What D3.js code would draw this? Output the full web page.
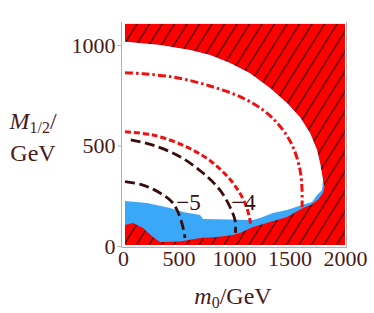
<!DOCTYPE html>
<html><head><meta charset="utf-8">
<script src="https://cdn.jsdelivr.net/npm/d3@7"></script>
<style>html,body{margin:0;padding:0;background:#fff;}</style>
</head><body>
<svg id="c" width="374" height="313"></svg>
<script>
// ---- data (m0 [GeV], M1/2 [GeV]) ----
const xTicks = [0, 500, 1000, 1500, 2000];
const yTicks = [0, 500, 1000];
const plotRange = {x: [18, 2000], y: [5, 1105]};
// allowed (white) region boundary
const whiteRegion = [[18,1016],[333,1000],[604,975],[784,950],[964,910],[1144,860],[1324,786],[1477,711],[1595,641],[1685,562],[1748,477],[1775,413],[1802,328],[1793,278],[1748,254],[1703,219],[1613,204],[1477,179],[1351,164],[1234,139],[1171,129],[721,134],[694,154],[541,169],[423,189],[216,214],[18,224]];
// blue region (drawn below white) outer boundary
const blueRegion = [[18,1016],[333,1000],[604,975],[784,950],[964,910],[1144,860],[1324,786],[1477,711],[1595,641],[1685,562],[1748,477],[1775,413],[1802,328],[1815,295],[1800,262],[1760,232],[1700,206],[1622,189],[1477,144],[1324,119],[1171,94],[1054,65],[991,55],[847,45],[694,40],[514,22],[333,20],[270,45],[180,90],[90,114],[18,104]];
// contour lines
const dotDashRed = [[18,862],[180,857],[486,837],[784,796],[1081,736],[1297,661],[1441,577],[1532,492],[1595,378],[1613,279],[1613,194]];
const dashedRed = [[18,568],[270,552],[577,492],[811,413],[991,313],[1099,214],[1144,129],[1150,96]];
const dashedDark4 = [[70,528],[270,502],[514,444],[721,363],[874,278],[964,194],[1009,129],[1013,65]];
const dashedDark5 = [[18,320],[180,303],[333,264],[441,219],[495,169],[540,94],[559,40]];
const contourLabels = [{t:"\u22125", x:590, y:180},{t:"\u22124", x:1085, y:180}];

const svg = d3.select("#c");
const x = d3.scaleLinear().domain([0, 2000]).range([123, 345]);
const y = d3.scaleLinear().domain([0, 1000]).range([246, 45]);
const textCol = "#4a1a1a";
const font = "'Liberation Serif','DejaVu Serif',serif";

// hatch pattern: lines x/w + y/h = k
const defs = svg.append("defs");
const w = 12.5, h = 20;
const pat = defs.append("pattern").attr("id","hatch").attr("patternUnits","userSpaceOnUse")
  .attr("width", w).attr("height", h).attr("x", 2).attr("y", 0);
pat.append("rect").attr("width", w).attr("height", h).attr("fill", "#ff0000");
[0,1,2].forEach(k => {
  pat.append("line").attr("x1", k*w + w).attr("y1", -h).attr("x2", k*w - 2*w).attr("y2", 2*h)
    .attr("stroke", "#3a0a0a").attr("stroke-width", 1.2);
});

const px0 = x(plotRange.x[0]), px1 = x(plotRange.x[1]);
const py0 = y(plotRange.y[1]), py1 = y(plotRange.y[0]);
svg.append("rect").attr("x", px0).attr("y", py0).attr("width", px1-px0).attr("height", py1-py0)
  .attr("fill", "url(#hatch)");

const poly = d3.line().x(d => x(d[0])).y(d => y(d[1]));
svg.append("path").attr("d", poly(blueRegion) + "Z").attr("fill", "#3aa7f7");
svg.append("path").attr("d", poly(whiteRegion) + "Z").attr("fill", "#ffffff");

const curve = d3.line().x(d => x(d[0])).y(d => y(d[1])).curve(d3.curveCatmullRom);
svg.append("path").attr("d", curve(dotDashRed)).attr("fill","none").attr("stroke","#f01010")
  .attr("stroke-width", 3).attr("stroke-dasharray","8,3,2.5,3");
svg.append("path").attr("d", curve(dashedRed)).attr("fill","none").attr("stroke","#f01010")
  .attr("stroke-width", 3).attr("stroke-dasharray","6,3");
svg.append("path").attr("d", curve(dashedDark4)).attr("fill","none").attr("stroke","#3a0c0c")
  .attr("stroke-width", 2.8).attr("stroke-dasharray","10,4.5");
svg.append("path").attr("d", curve(dashedDark5)).attr("fill","none").attr("stroke","#3a0c0c")
  .attr("stroke-width", 2.8).attr("stroke-dasharray","10,4.5");

svg.selectAll("text.cl").data(contourLabels).enter().append("text").attr("class","cl")
  .attr("x", d => x(d.x)).attr("y", d => y(d.y)).attr("text-anchor","middle")
  .attr("font-family", font).attr("font-size", 23).attr("fill", "#3a1010").text(d => d.t);

// frame
const fr = svg.append("g").attr("stroke", "#b0b0b0").attr("stroke-width", 1).attr("fill","none");
fr.append("line").attr("x1",121.5).attr("y1",22).attr("x2",121.5).attr("y2",247.5);
fr.append("line").attr("x1",346.5).attr("y1",22).attr("x2",346.5).attr("y2",247.5);
fr.append("line").attr("x1",121.5).attr("y1",247.5).attr("x2",346.5).attr("y2",247.5);

// axes via d3 axis
const xAxis = d3.axisBottom(x).tickValues(xTicks).tickSize(0).tickPadding(0).tickFormat(d3.format("d"));
const gx = svg.append("g").attr("transform","translate(0,250)").call(xAxis);
gx.select(".domain").remove();
gx.selectAll("text").attr("font-family", font).attr("font-size", 22).attr("fill", textCol).attr("dy","0.71em");
const yAxis = d3.axisLeft(y).tickValues(yTicks).tickSize(4).tickPadding(2).tickFormat(d3.format("d"));
const gy = svg.append("g").attr("transform","translate(121.5,0)").call(yAxis);
gy.select(".domain").remove();
gy.selectAll("line").attr("stroke","#b0b0b0");
gy.selectAll("text").attr("font-family", font).attr("font-size", 22).attr("fill", textCol).attr("dy","0.34em");

// axis labels
const xl = svg.append("text").attr("x", 233).attr("y", 304).attr("text-anchor","middle")
  .attr("font-family", font).attr("font-size", 24).attr("fill", textCol);
xl.append("tspan").attr("font-style","italic").text("m");
xl.append("tspan").attr("font-size", 16).attr("dy", 4).text("0");
xl.append("tspan").attr("dy", -4).text("/GeV");

const yl = svg.append("text").attr("x", 33).attr("y", 129).attr("text-anchor","middle")
  .attr("font-family", font).attr("font-size", 24).attr("fill", textCol);
yl.append("tspan").attr("font-style","italic").text("M");
yl.append("tspan").attr("font-size", 16).attr("dy", 4).text("1/2");
yl.append("tspan").attr("dy", -4).text("/");
svg.append("text").attr("x", 33).attr("y", 161).attr("text-anchor","middle")
  .attr("font-family", font).attr("font-size", 24).attr("fill", textCol).text("GeV");
</script>
</body></html>
